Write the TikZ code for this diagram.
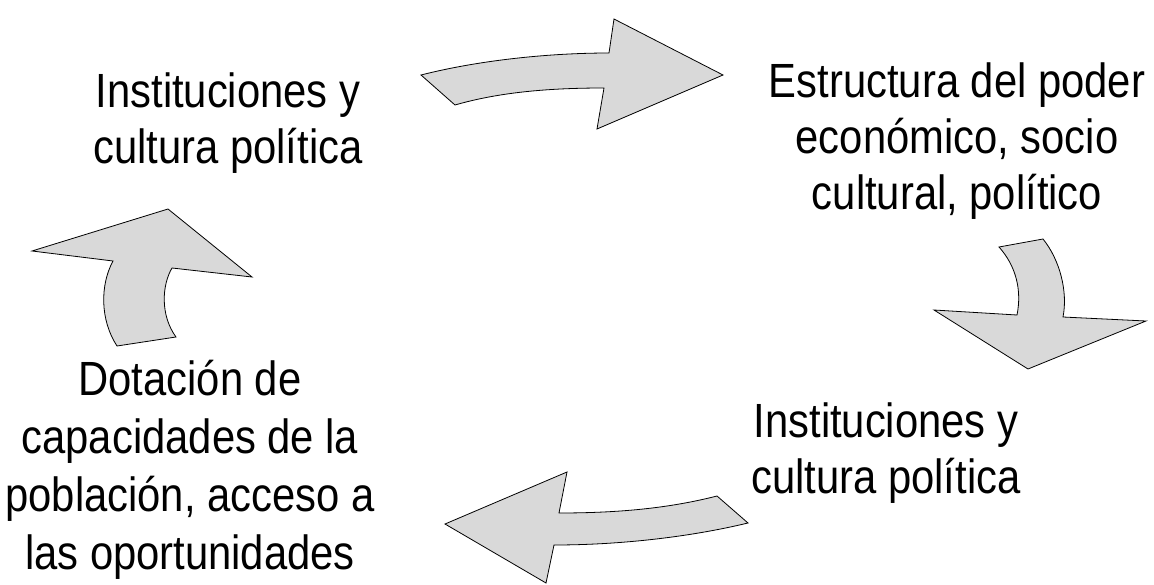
\documentclass[tikz,border=0pt]{standalone}
\usepackage{fontspec}
\setmainfont{Liberation Sans}[FakeStretch=0.87]
\begin{document}
\begin{tikzpicture}[x=0.75pt,y=-0.75pt,
    blockarrow/.style={fill=black!15, draw=black, line width=0.6pt, line join=miter},
    txt/.style={align=center, inner sep=0pt, font=\fontsize{36}{42}\selectfont}]
    \useasboundingbox (0,0) rectangle (1154,585);
    % the texts
    \node[txt] (inst) at (228,123) {Instituciones y\\cultura política};
    \node[txt] (poder) at (957,141) {Estructura del poder\\económico, socio\\cultural, político};
    \node[txt] (inst2) at (886,453) {Instituciones y\\cultura política};
    \node[txt, font=\fontsize{36}{43.5}\selectfont] (dota) at (190,470) {Dotación de\\capacidades de la\\población, acceso a\\las oportunidades};
    % draw the arrows
    \filldraw[blockarrow] (421,75) .. controls (480,60) and (550,53) .. (609,53) -- (614,19) -- (723,75)
        -- (597,129) -- (604,88) .. controls (550,88) and (500,92) .. (455,105) -- cycle;
    \filldraw[blockarrow] (999,247) -- (1043,239) .. controls (1060,260) and (1068,292) .. (1063,317)
        -- (1146,321) -- (1028,369) -- (934,310) -- (1017,315) .. controls (1022,290) and (1016,266) .. (999,247) -- cycle;
    \filldraw[blockarrow] (717,496) -- (748,523) .. controls (690,537) and (620,545) .. (554,545)
        -- (546,583) -- (445,524) -- (567,472) -- (559,513) .. controls (620,513) and (670,508) .. (717,496) -- cycle;
    \filldraw[blockarrow] (113,261) -- (32,251) -- (168,209) -- (252,277) -- (172,268)
        .. controls (162,285) and (160,315) .. (176,337) -- (117,346) .. controls (100,320) and (100,285) .. (113,261) -- cycle;
\end{tikzpicture}
\end{document}
